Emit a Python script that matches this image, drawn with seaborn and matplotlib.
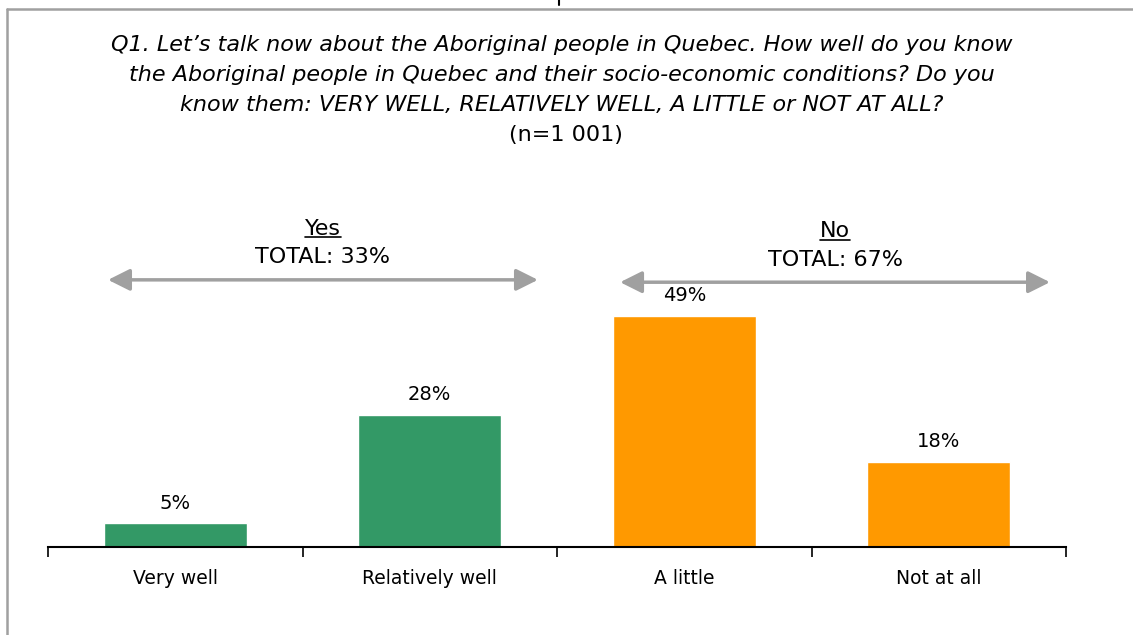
import matplotlib
matplotlib.use("Agg")
import matplotlib.pyplot as plt
from matplotlib.lines import Line2D
import seaborn as sns
import pandas as pd

categories = ["Very well", "Relatively well", "A little", "Not at all"]
values = [5, 28, 49, 18]
groups = ["Yes", "Yes", "No", "No"]
group_totals = {"Yes": 33, "No": 67}

title_lines = [
    "Q1. Let’s talk now about the Aboriginal people in Quebec. How well do you know",
    "the Aboriginal people in Quebec and their socio-economic conditions? Do you",
    "know them: VERY WELL, RELATIVELY WELL, A LITTLE or NOT AT ALL?",
]
subtitle = "(n=1 001)"

GREEN = "#339966"
ORANGE = "#FF9900"
GRAY = "#A0A0A0"

sns.set_theme(style="white")
plt.rcParams["font.family"] = ["DejaVu Sans"]

df = pd.DataFrame({"cat": categories, "val": values, "grp": groups})

fig = plt.figure(figsize=(11.33, 6.35), dpi=100)
ax = fig.add_axes([48 / 1133, 88 / 635, (1066 - 48) / 1133, (547 - 169.4) / 635])

sns.barplot(data=df, x="cat", y="val", hue="grp", palette={"Yes": GREEN, "No": ORANGE},
            dodge=False, width=0.56, legend=False, ax=ax, saturation=1)

ax.set_xlim(-0.5, 3.5)
ax.set_ylim(0, 80)
ax.set_xlabel("")
ax.set_ylabel("")
ax.set_yticks([])
for s in ["top", "right", "left"]:
    ax.spines[s].set_visible(False)
ax.spines["bottom"].set_color("black")
ax.spines["bottom"].set_linewidth(1.5)

ax.set_xticks([i - 0.5 for i in range(len(categories) + 1)])
ax.set_xticklabels([""] * (len(categories) + 1))
ax.tick_params(axis="x", which="major", direction="out", length=7, width=1.2, color="black", bottom=True)
ax.set_xticks(range(len(categories)), minor=True)
ax.set_xticklabels(categories, minor=True, fontsize=13.5, color="black")
ax.tick_params(axis="x", which="minor", length=0, pad=16)

for i, v in enumerate(values):
    ax.text(i, v + 2.3, f"{v}%", ha="center", va="bottom", fontsize=14, color="black")

# group arrows and totals
arrow_specs = {"Yes": (-0.264, 1.425, 56.6), "No": (1.748, 3.437, 56.1)}
for g, (x0, x1, y) in arrow_specs.items():
    ax.annotate("", xy=(x0, y), xytext=(x1, y),
                arrowprops=dict(arrowstyle="<|-|>,head_length=1.1,head_width=0.55",
                                color=GRAY, lw=2.5, shrinkA=0, shrinkB=0))
    xc = (x0 + x1) / 2
    ax.text(xc, y + 4.8, f"TOTAL: {group_totals[g]}%", ha="center", va="center", fontsize=16, color="black")
    t = ax.text(xc, y + 10.8, g, ha="center", va="center", fontsize=16, color="black")
    fig.canvas.draw()
    bb = t.get_window_extent().transformed(ax.transData.inverted())
    ax.plot([bb.x0, bb.x1], [bb.y0 + 0.3, bb.y0 + 0.3], color="black", lw=1.2)

# title
ys = [45, 75, 105]
for line, yp in zip(title_lines, ys):
    fig.text(562 / 1133, 1 - yp / 635, line, ha="center", va="center", fontsize=16,
             style="italic", color="black")
fig.text(566 / 1133, 1 - 135 / 635, subtitle, ha="center", va="center", fontsize=16, color="black")

# frame lines
fig.add_artist(Line2D([7 / 1133, 7 / 1133], [0, 1 - 9 / 635], transform=fig.transFigure, color=GRAY, lw=1.8))
fig.add_artist(Line2D([7 / 1133, 1], [1 - 9 / 635, 1 - 9 / 635], transform=fig.transFigure, color=GRAY, lw=1.8))
fig.add_artist(Line2D([558.5 / 1133, 558.5 / 1133], [1, 1 - 5 / 635], transform=fig.transFigure, color="black", lw=1.5))

fig.savefig("out.png", dpi=100)
